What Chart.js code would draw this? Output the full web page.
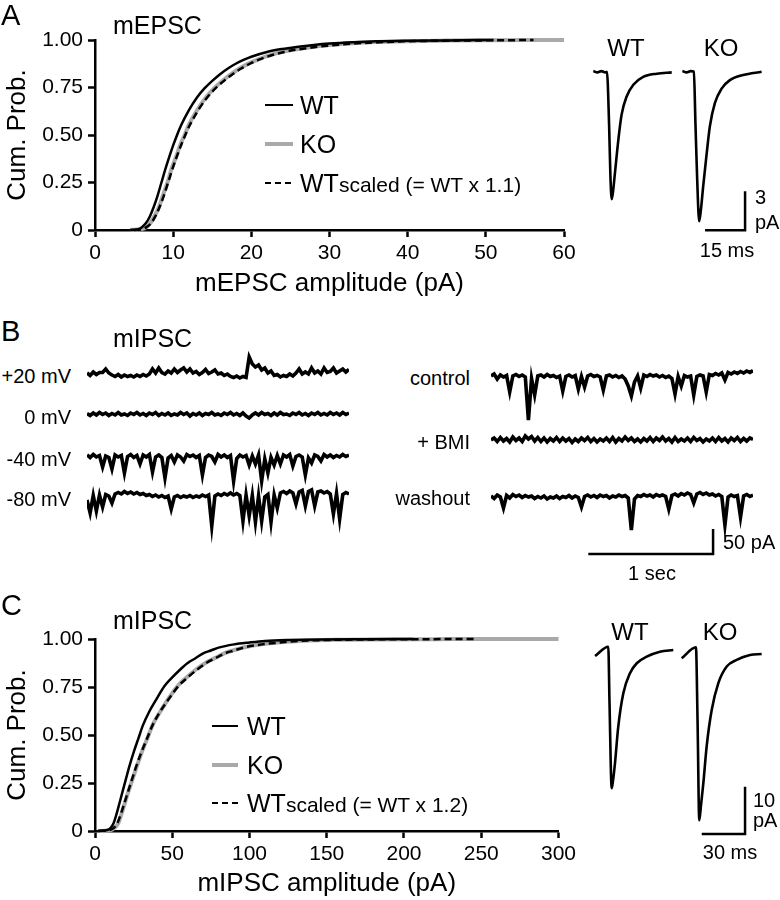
<!DOCTYPE html>
<html><head><meta charset="utf-8">
<script src="https://cdn.jsdelivr.net/npm/chart.js"></script>
<style>
html,body{margin:0;padding:0;background:#fff;}
body{width:780px;height:900px;position:relative;overflow:hidden;font-family:"Liberation Sans",Arial,Helvetica,sans-serif;color:#000;}
canvas{position:absolute;}
.t{position:absolute;white-space:nowrap;line-height:1;}
.ln{position:absolute;}
</style></head><body>
<script>
// ---------- Panel A: mEPSC cumulative distributions (amplitude pA, cumulative probability) ----------
const mepscWT = [[4.5,0],[5.5,0.004],[6,0.015],[6.5,0.035],[7,0.07],[7.5,0.12],[8,0.18],[8.5,0.25],[9,0.32],[9.5,0.385],[10,0.445],[10.5,0.5],[11,0.55],[12,0.63],[13,0.695],[14,0.745],[15,0.785],[16,0.82],[17,0.85],[18,0.875],[19,0.895],[20,0.912],[22,0.937],[24,0.953],[26,0.965],[28,0.974],[30,0.981],[33,0.988],[36,0.993],[40,0.996],[45,0.998],[51,1.0]];
const mepscKO = [[4.5,0],[6,0.005],[6.6,0.017],[7.1,0.037],[7.6,0.072],[8.2,0.122],[8.7,0.183],[9.3,0.253],[9.8,0.323],[10.4,0.388],[10.9,0.448],[11.5,0.503],[12,0.553],[13.1,0.633],[14.2,0.698],[15.3,0.748],[16.4,0.788],[17.5,0.823],[18.6,0.853],[19.7,0.877],[20.8,0.897],[21.9,0.914],[24.1,0.939],[26.3,0.955],[28.5,0.967],[30.7,0.976],[33,0.983],[36,0.989],[40,0.994],[45,0.997],[50,0.999],[56,1.0],[60,1.0]];
const mepscWTscaled = [[5,0],[6.05,0.004],[6.6,0.015],[7.15,0.035],[7.7,0.07],[8.25,0.12],[8.8,0.18],[9.35,0.25],[9.9,0.32],[10.45,0.385],[11,0.445],[11.55,0.5],[12.1,0.55],[13.2,0.63],[14.3,0.695],[15.4,0.745],[16.5,0.785],[17.6,0.82],[18.7,0.85],[19.8,0.875],[20.9,0.895],[22,0.912],[24.2,0.937],[26.4,0.953],[28.6,0.965],[30.8,0.974],[33,0.981],[36.3,0.988],[39.6,0.993],[44,0.996],[49.5,0.998],[56.1,1.0]];
const mepscXTicks = [0,10,20,30,40,50,60];
const probTicks = ["0","0.25","0.50","0.75","1.00"];

// averaged mEPSC traces (time ms, current pA)
const mepscAvgWT = [[5,0.05],[6.5,-0.05],[8,0.05],[9.5,-0.05],[10.1,0],[10.9,-4],[11.4,-8],[11.9,-9.8],[12.4,-9.2],[13.1,-7.8],[14.4,-5.2],[15.6,-3.3],[17.5,-1.9],[20,-1.0],[23.7,-0.4],[28.8,-0.15],[34.4,-0.05]];
const mepscAvgKO = [[38.4,0.05],[40,-0.05],[41.5,0.05],[42.7,0],[43.3,-4],[43.9,-8],[44.7,-11.5],[45.4,-10.5],[46.2,-8.8],[47.5,-6.3],[48.7,-4.2],[50.6,-2.4],[53.1,-1.3],[56.2,-0.65],[61.2,-0.25],[68.1,0]];
const mepscBarMs = 15, mepscBarPA = 3;

// ---------- Panel B: mIPSC raw traces (pA, sampled over 2.1 s) ----------
const traceDur = 2.1;
const tracePlus20 = [2,-3,4,-1,3,3,10,2,-2,-5, -1,-6,-2,-5,-3,-6,-2,-5,-1,-4, 0,10,2,12,3,0,6,2,10,3, 8,12,4,10,2,5,-1,3,9,1, 4,8,0,2,-3,0,-5,-7,-4,-8, -5,-7,34,20,14,18,8,12,2,6, -3,-1,-6,-3,-5,0,-4,2,10,0, 4,0,12,2,6,0,12,3,5,12, 2,6,10,4,9];
const trace0 = [1,-3,2,-2,3,-1,2,-3,1,-2, 3,-2,0,-3,2,-1,3,-2,1,-3, 2,-1,3,-3,1,-2,2,-3,0,-2, 3,-1,2,-4,1,-2,2,-3,1,-1, 3,-2,0,-3,2,-1,3,-2,1,-3, 2,-4,-8,-2,2,-2,3,-1,1,-3, 2,-2,3,-1,0,-3,2,-1,3,-2, 1,-3,2,-1,3,-2,1,-2,3,-1, 2,-2,3,-1,2];
const traceMinus40 = [2,-3,3,-2,1,-22,0,-3,-26,2, -2,1,-34,-1,3,-3,1,-16,2,-2, 3,-32,-2,2,-3,-44,-4,1,-12,2, -2,-10,3,-1,2,-3,1,-38,-3,2, -1,-12,3,-2,2,-3,1,-50,-5,2, -2,1,-18,0,-16,2,-50,-6,-34,-3, -18,1,-16,2,-2,3,-20,-1,2,-2, -38,-4,-14,2,-1,-10,3,-2,2,-3, 1,-2,3,-1,2];
const traceMinus80 = [-8,-34,1,-30,2,-22,3,0,-14,4, 7,4,9,5,8,4,7,3,5,1, 3,-1,2,-2,1,-3,0,-26,-2,1, -3,0,-2,1,-3,0,-2,2,-1,2, -60,0,4,1,5,2,6,2,5,1, -50,2,-40,1,-52,0,-50,-2,3,-52, 2,-24,6,9,5,10,6,-16,8,11, -20,9,12,-20,8,10,6,9,4,-36, 5,-46,3,7,4];
const traceControl = [2,6,-4,4,0,3,-30,2,5,1, 4,0,-86,-3,-36,2,4,0,5,1, 3,-1,2,-28,1,4,0,3,-24,1, -20,2,5,1,3,0,-26,2,4,0, 3,-1,2,-4,-18,-38,-10,2,-22,4, 1,5,2,4,0,3,-1,2,-3,-34, 1,-18,3,0,2,-36,1,4,2,-30, 5,3,7,4,8,-6,9,6,10,7, 11,8,12,9,13];
const traceBMI = [0,4,-3,5,-2,3,-4,6,-1,4, -3,8,2,7,-2,5,-3,4,-4,3, -2,5,-3,4,-2,3,-5,2,-3,4, -1,5,-3,3,-4,2,-2,4,-3,5, -4,3,-2,6,-1,4,-3,2,-4,3, -2,5,-3,4,-1,6,-2,3,-4,5, -3,2,-2,4,-3,5,-1,3,-4,2, -2,4,-3,5,-2,3,-4,4,-1,5, -3,3,-2,4,1];
const traceWashout = [2,-3,4,0,-22,3,-2,5,1,4, -1,3,0,2,-3,1,-2,2,-4,0, -2,2,-3,1,-1,3,-2,2,-1,-20, 1,4,0,3,-1,4,1,3,-2,2, 0,4,1,3,-2,-66,-4,3,1,5, 2,4,0,5,2,4,1,-24,3,6, 2,7,4,8,5,-12,6,9,5,8, 4,6,2,5,1,-56,0,4,1,3, -40,2,5,1,4];
const traceLabelsLeft = ["+20 mV","0 mV","-40 mV","-80 mV"];
const traceLabelsRight = ["control","+ BMI","washout"];
const rawBarSec = 1, rawBarPA = 50;

// ---------- Panel C: mIPSC cumulative distributions ----------
const mipscWT = [[2,0],[8,0.005],[10,0.015],[12,0.04],[14,0.09],[16,0.15],[18,0.21],[20,0.27],[22,0.33],[25,0.41],[28,0.48],[31,0.55],[35,0.62],[40,0.69],[45,0.755],[50,0.8],[55,0.84],[60,0.875],[65,0.9],[70,0.925],[75,0.94],[80,0.955],[90,0.972],[100,0.982],[110,0.99],[125,0.995],[150,0.998],[175,0.999],[206,1.0]];
const mipscKO = [[2,0],[10,0.004],[12.5,0.015],[15,0.04],[17,0.085],[19.5,0.15],[22,0.215],[24.5,0.275],[27,0.335],[30.5,0.415],[34,0.485],[37.5,0.555],[42.5,0.625],[48,0.695],[54,0.76],[60,0.805],[66,0.845],[72,0.878],[78,0.902],[84,0.926],[90,0.942],[96,0.956],[108,0.973],[120,0.983],[135,0.991],[155,0.996],[185,0.998],[220,0.999],[260,1.0],[300,1.0]];
const mipscWTscaled = [[2.4,0],[9.6,0.005],[12,0.015],[14.4,0.04],[16.8,0.09],[19.2,0.15],[21.6,0.21],[24,0.27],[26.4,0.33],[30,0.41],[33.6,0.48],[37.2,0.55],[42,0.62],[48,0.69],[54,0.755],[60,0.8],[66,0.84],[72,0.875],[78,0.9],[84,0.925],[90,0.94],[96,0.955],[108,0.972],[120,0.982],[132,0.99],[150,0.995],[180,0.998],[210,0.999],[247,1.0]];
const mipscXTicks = [0,50,100,150,200,250,300];

// averaged mIPSC traces (time ms, current pA)
const mipscAvgWT = [[10.4,-1.27],[19.6,0.7],[20.4,-10.6],[21.95,-29.2],[22.9,-27.5],[24.2,-24.0],[26.5,-16.2],[30,-9.15],[34.6,-4.9],[39.3,-2.8],[46.2,-1.4],[55.4,-0.36],[64.6,0]];
const mipscAvgKO = [[70.4,-1.75],[80.3,0.57],[81.4,-14.8],[82.6,-36.0],[83.8,-32.8],[85.4,-28.2],[87.7,-20.4],[91.2,-12.7],[95.8,-7.0],[101.6,-3.5],[108.5,-2.1],[117.7,-1.06],[125.8,-0.85]];
const mipscBarMs = 30, mipscBarPA = 10;

// ---------- helpers ----------
Chart.defaults.font.family = '"Liberation Sans", Arial, Helvetica, sans-serif';
Chart.defaults.color = '#000';
function mk(left, top, w, h){
  const c = document.createElement('canvas');
  c.width = w; c.height = h;
  c.style.left = left + 'px'; c.style.top = top + 'px';
  c.style.width = w + 'px'; c.style.height = h + 'px';
  document.body.appendChild(c);
  return c;
}
function txt(html, x, y, size, align){
  const d = document.createElement('div');
  d.className = 't';
  d.innerHTML = html;
  d.style.left = x + 'px'; d.style.top = y + 'px';
  d.style.fontSize = size + 'px';
  const tx = align === 'c' ? '-50%' : align === 'r' ? '-100%' : '0';
  d.style.transform = 'translate(' + tx + ',-50%)';
  document.body.appendChild(d);
}
function legLine(x1, x2, y, kind){
  const d = document.createElement('div');
  d.className = 'ln';
  const w = kind === 'ko' ? 4 : 2.5;
  d.style.left = x1 + 'px'; d.style.top = (y - w/2) + 'px';
  d.style.width = (x2 - x1) + 'px'; d.style.height = w + 'px';
  if (kind === 'ko') d.style.background = '#a9a9a9';
  else if (kind === 'dash') d.style.background = 'repeating-linear-gradient(to right,#000 0 6px,transparent 6px 10px)';
  else d.style.background = '#000';
  document.body.appendChild(d);
}
const baseOpts = {responsive:false, devicePixelRatio:1, animation:false, events:[],
  plugins:{legend:{display:false}, tooltip:{enabled:false}}};
const pts = a => a.map(p => ({x:p[0], y:p[1]}));
const lineDs = (data, color, w, dash, extra) => Object.assign({data, borderColor:color, borderWidth:w, borderDash:dash||[], pointRadius:0, fill:false, tension:0, clip:false}, extra||{});

function cumChart(top, padTop, canvasH, axisH, xTicks, xTitle, titlePad, wt, ko, sc){
  const c = mk(0, top, 580, canvasH);
  const axisCommon = {
    grid:{drawOnChartArea:false, drawTicks:true, tickLength:7, tickWidth:2.5, tickColor:'#000'},
    border:{display:true, color:'#000', width:2.5}
  };
  // Chart.js paints dataset 0 on top, so the grey KO curve goes last (bottom layer)
  new Chart(c, {type:'line',
    data:{datasets:[
      lineDs(pts(sc), '#000', 2.5, [7,4], {cubicInterpolationMode:'monotone'}),
      lineDs(pts(wt), '#000', 2.5, null, {cubicInterpolationMode:'monotone'}),
      lineDs(pts(ko), '#a9a9a9', 4, null, {cubicInterpolationMode:'monotone'})
    ]},
    options:Object.assign({}, baseOpts, {
      layout:{padding:{top:padTop, right:16, left:0, bottom:0}},
      scales:{
        x:Object.assign({type:'linear', min:xTicks[0], max:xTicks[xTicks.length-1],
          afterBuildTicks(s){ s.ticks = xTicks.map(v => ({value:v})); },
          ticks:{font:{size:21}, color:'#000', padding:4, maxRotation:0, autoSkip:false},
          title:{display:true, text:xTitle, font:{size:26}, color:'#000', padding:{top:0, bottom:titlePad}},
          afterFit(s){ s.height = axisH; }}, axisCommon),
        y:Object.assign({type:'linear', min:0, max:1,
          afterBuildTicks(s){ s.ticks = probTicks.map((l,i) => ({value:i*0.25})); },
          ticks:{font:{size:21}, color:'#000', padding:5, autoSkip:false, callback:(v,i) => probTicks[i]},
          title:{display:true, text:'Cum. Prob.', font:{size:26}, color:'#000', padding:{top:2, bottom:0}},
          afterFit(s){ s.width = 95; }}, axisCommon)
      }
    })
  });
}

function avgChart(top, h, xMax, yMin, yMax, wt, ko, barT, barMs, barY, barPA){
  const c = mk(580, top, 200, h);
  new Chart(c, {type:'line',
    data:{datasets:[
      lineDs(pts(wt), '#000', 2.6, null, {cubicInterpolationMode:'monotone'}),
      lineDs(pts(ko), '#000', 2.6, null, {cubicInterpolationMode:'monotone'}),
      lineDs([{x:barT - barMs, y:barY},{x:barT, y:barY},{x:barT, y:barY + barPA}], '#000', 2.5)
    ]},
    options:Object.assign({}, baseOpts, {layout:{padding:0},
      scales:{x:{type:'linear', display:false, min:0, max:xMax}, y:{display:false, min:yMin, max:yMax}}})
  });
}

function rawChart(left, baseY, vals){
  const c = mk(left, baseY - 60, 262, 120);
  new Chart(c, {type:'line',
    data:{datasets:[ lineDs(vals.map((v,i) => ({x:i*traceDur/(vals.length-1), y:v})), '#000', 3.6) ]},
    options:Object.assign({}, baseOpts, {layout:{padding:0},
      scales:{x:{type:'linear', display:false, min:0, max:traceDur}, y:{display:false, min:-120, max:120}}})
  });
}

// ---------- Panel A ----------
cumChart(0, 40, 300, 70, mepscXTicks, 'mEPSC amplitude (pA)', 1, mepscWT, mepscKO, mepscWTscaled);
avgChart(40, 220, 75, -14.48, 2.44, mepscAvgWT, mepscAvgKO, 61.9, mepscBarMs, -12.2, mepscBarPA);
txt('A', 1, 15, 29, 'l');
txt('mEPSC', 113, 25, 25, 'l');
legLine(265, 293, 105, 'wt'); txt('WT', 300, 105, 25, 'l');
legLine(265, 293, 144, 'ko'); txt('KO', 300, 144, 25, 'l');
legLine(265, 293, 183, 'dash'); txt('WT<span style="font-size:21px">scaled (= WT x 1.1)</span>', 300, 183, 25, 'l');
txt('WT', 626, 48, 24, 'c');
txt('KO', 721, 48, 24, 'c');
txt('3', 755, 197, 20, 'l');
txt('pA', 755, 222, 20, 'l');
txt('15 ms', 727, 250, 20, 'c');

// ---------- Panel B ----------
const leftY = [374, 414, 456, 496];
[tracePlus20, trace0, traceMinus40, traceMinus80].forEach((v,i) => rawChart(87, leftY[i], v));
const rightY = [377, 440, 497];
[traceControl, traceBMI, traceWashout].forEach((v,i) => rawChart(491, rightY[i], v));
(function(){
  const c = mk(491, 519, 262, 60);
  new Chart(c, {type:'line',
    data:{datasets:[ lineDs([{x:0.78, y:-rawBarPA},{x:0.78 + rawBarSec, y:-rawBarPA},{x:0.78 + rawBarSec, y:0}], '#000', 2.5) ]},
    options:Object.assign({}, baseOpts, {layout:{padding:0},
      scales:{x:{type:'linear', display:false, min:0, max:traceDur}, y:{display:false, min:-100, max:20}}})
  });
})();
txt('B', 1, 331, 29, 'l');
txt('mIPSC', 113, 338, 25, 'l');
traceLabelsLeft.forEach((l,i) => txt(l, 71, [376, 417, 459, 499][i], 20, 'r'));
traceLabelsRight.forEach((l,i) => txt(l, 470, [378, 442, 498][i], 20, 'r'));
txt('50 pA', 723, 542, 20, 'l');
txt('1 sec', 652, 573, 20, 'c');

// ---------- Panel C ----------
cumChart(600, 39, 300, 69, mipscXTicks, 'mIPSC amplitude (pA)', 1, mipscWT, mipscKO, mipscWTscaled);
avgChart(600, 270, 138.5, -46.5, 10.57, mipscAvgWT, mipscAvgKO, 114.3, mipscBarMs, -38.9, mipscBarPA);
txt('C', 1, 605, 29, 'l');
txt('mIPSC', 113, 620, 25, 'l');
legLine(212, 238, 726, 'wt'); txt('WT', 247, 726, 25, 'l');
legLine(212, 238, 765, 'ko'); txt('KO', 247, 765, 25, 'l');
legLine(212, 238, 803, 'dash'); txt('WT<span style="font-size:21px">scaled (= WT x 1.2)</span>', 247, 803, 25, 'l');
txt('WT', 630, 632, 24, 'c');
txt('KO', 720, 632, 24, 'c');
txt('10', 753, 800, 20, 'l');
txt('pA', 753, 820, 20, 'l');
txt('30 ms', 730, 852, 20, 'c');
</script>
</body></html>
